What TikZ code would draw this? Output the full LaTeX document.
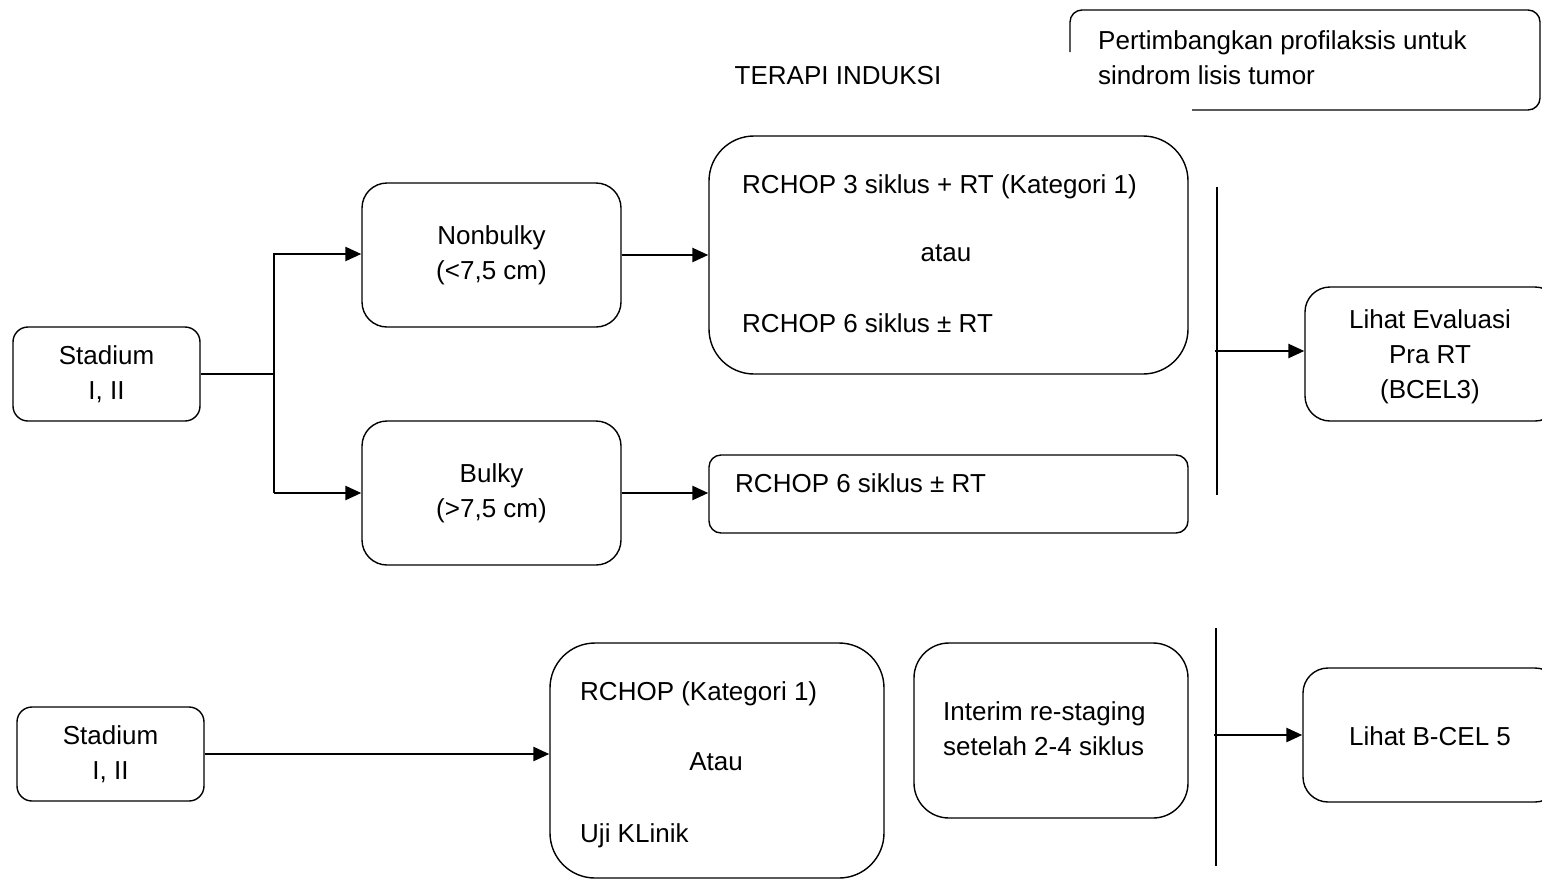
\documentclass[tikz,border=0pt]{standalone}
\usepackage{fontspec}
\setmainfont{Liberation Sans}
\usetikzlibrary{arrows.meta}
\begin{document}
\begin{tikzpicture}[x=1pt,y=-1pt,
 box/.style={draw=black, line width=1.4pt, rounded corners=#1, inner sep=0pt, align=center,
   font=\fontsize{26}{35}\selectfont},
 box/.default=15pt,
 txt/.style={font=\fontsize{26}{35}\selectfont, inner sep=0pt, align=center},
 conn/.style={line width=2.6pt},
 arr/.style={conn, -{Triangle[length=16pt,width=14pt]}},
 bar/.style={line width=2.8pt}]
\useasboundingbox (0,0) rectangle (1542,879);
\clip (0,0) rectangle (1542,879);

% title and note
\node[txt] (title) at (838,76) {TERAPI INDUKSI};
\draw[line width=1.4pt, rounded corners=12pt] (1070,52) -- (1070,10) -- (1540,10) -- (1540,110) -- (1192,110);
\node[txt, align=left, anchor=west] (note) at (1098,57.5) {Pertimbangkan profilaksis untuk\\sindrom lisis tumor};

% upper row
\node[box=15pt, minimum width=187pt, minimum height=94pt] (s1) at (106.5,374) {Stadium\\I, II};
\node[box=25pt, minimum width=259pt, minimum height=144pt] (n1) at (491.5,255) {Nonbulky\\(<7,5 cm)};
\node[box=25pt, minimum width=259pt, minimum height=144pt] (n2) at (491.5,493) {Bulky\\(>7,5 cm)};
\node[box=45pt, minimum width=479pt, minimum height=238pt] (b1) at (948.5,255) {};
\node[txt, anchor=mid west] (b1a) at (742,191) {RCHOP 3 siklus + RT (Kategori 1)};
\node[txt] (b1b) at (946,253) {atau};
\node[txt, anchor=mid west] (b1c) at (742,330) {RCHOP 6 siklus ± RT};
\node[box=12pt, minimum width=479pt, minimum height=78pt] (b2) at (948.5,494) {};
\node[txt, anchor=mid west] (b2a) at (735,490) {RCHOP 6 siklus ± RT};
\node[box=25pt, minimum width=255pt, minimum height=134pt] (e1) at (1432.5,354) {};
\node[txt] (e1t) at (1430,357) {Lihat Evaluasi\\Pra RT\\(BCEL3)};

\coordinate (jt) at (274,254);
\coordinate (jb) at (274,493);
\draw[conn] (s1.east) -- (s1.east -| jt);
\draw[arr] (jb) -- (jt) -- (jt -| n1.west);
\draw[arr] (jb) -- (jb -| n2.west);
\draw[arr] (n1.east) -- (n1.east -| b1.west);
\draw[arr] (n2.east) -- (n2.east -| b2.west);

\coordinate (v1t) at (1217,187);
\coordinate (v1b) at (1217,495);
\coordinate (v1m) at (1215,351);
\draw[bar] (v1t) -- (v1b);
\draw[arr] (v1m) -- (v1m -| e1.west);

% lower row
\node[box=15pt, minimum width=187pt, minimum height=94pt] (s2) at (110.5,754) {Stadium\\I, II};
\node[box=45pt, minimum width=334pt, minimum height=235pt] (k) at (717,760.5) {};
\node[txt, anchor=mid west] (ka) at (580,698) {RCHOP (Kategori 1)};
\node[txt] (kb) at (716,762) {Atau};
\node[txt, anchor=mid west] (kc) at (580,840) {Uji KLinik};
\node[box=35pt, minimum width=274pt, minimum height=175pt] (im) at (1051,730.5) {};
\node[txt, align=left, anchor=west] (imt) at (943,729) {Interim re-staging\\setelah 2-4 siklus};
\node[box=25pt, minimum width=257pt, minimum height=134pt] (e2) at (1431.5,735) {};
\node[txt] (e2t) at (1430,736) {Lihat B-CEL 5};

\draw[arr] (s2.east) -- (s2.east -| k.west);
\coordinate (v2t) at (1216,628);
\coordinate (v2b) at (1216,866);
\coordinate (v2m) at (1214,735);
\draw[bar] (v2t) -- (v2b);
\draw[arr] (v2m) -- (v2m -| e2.west);
\end{tikzpicture}
\end{document}
